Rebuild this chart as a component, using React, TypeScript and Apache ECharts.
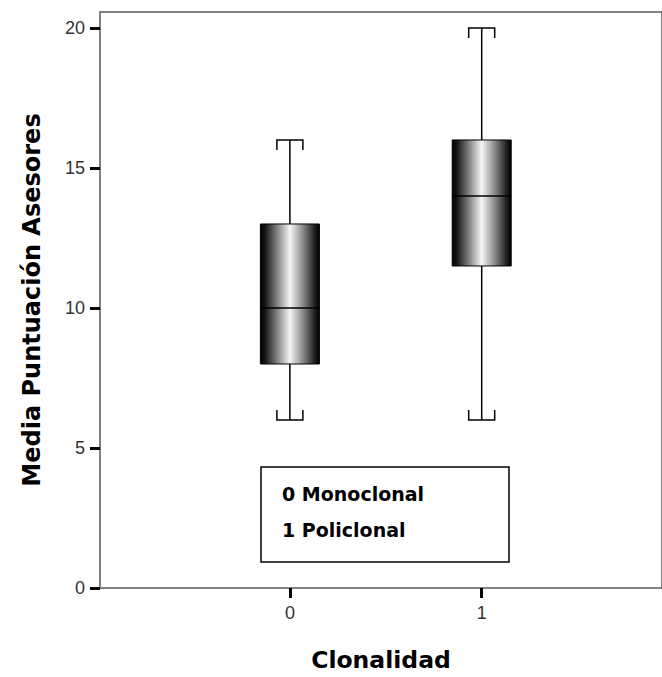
import React, { useEffect, useRef } from "react";
import * as echarts from "echarts";

const categories = [0, 1];
const categoryLabels = ["0", "1"];
// [low whisker, Q1, median, Q3, high whisker]
const boxValues = [
  [6, 8, 10, 13, 16],
  [6, 11.5, 14, 16, 20],
];
const yTicks = [0, 5, 10, 15, 20];
const legendLines = ["0 Monoclonal", "1 Policlonal"];

export default function App() {
  const ref = useRef<HTMLDivElement>(null);
  useEffect(() => {
    if (!ref.current) return;
    const chart = echarts.init(ref.current, null, { renderer: "svg" });
    const data = categories.map((c, i) => [c, ...boxValues[i]]);
    const grad = () =>
      new echarts.graphic.LinearGradient(0, 0, 1, 0, [
        { offset: 0, color: "#000000" },
        { offset: 0.08, color: "#151515" },
        { offset: 0.3, color: "#8a8a8a" },
        { offset: 0.5, color: "#f6f6f6" },
        { offset: 0.72, color: "#8a8a8a" },
        { offset: 0.92, color: "#202020" },
        { offset: 1, color: "#000000" },
      ]);
    const tickFont = "Liberation Sans Narrow, Liberation Sans, Arial, sans-serif";
    const titleFont = "DejaVu Sans, sans-serif";
    chart.setOption({
      animation: false,
      backgroundColor: "#ffffff",
      grid: {
        left: 100,
        right: 0,
        top: 12,
        bottom: 73,
        show: true,
        borderColor: "#808080",
        borderWidth: 2,
      },
      xAxis: {
        type: "value",
        min: -0.99,
        max: 1.94,
        name: "Clonalidad",
        nameLocation: "middle",
        nameGap: 60,
        nameTextStyle: {
          fontFamily: titleFont,
          fontWeight: "bold",
          fontSize: 23.5,
          color: "#000",
        },
        axisLine: { show: true, onZero: false, lineStyle: { color: "#808080", width: 2 } },
        axisTick: {
          show: true,
          length: 10,
          lineStyle: { color: "#000", width: 3 },
          customValues: categories,
        },
        axisLabel: {
          customValues: categories,
          formatter: (v: number) => categoryLabels[categories.indexOf(v)] ?? "",
          fontFamily: tickFont,
          fontSize: 18,
          color: "#333",
          margin: 16,
        },
        splitLine: { show: false },
      },
      yAxis: {
        type: "value",
        min: 0,
        max: 20.57,
        name: "Media Puntuación Asesores",
        nameLocation: "middle",
        nameGap: 56,
        nameTextStyle: {
          fontFamily: titleFont,
          fontWeight: "bold",
          fontSize: 24,
          color: "#000",
        },
        axisLine: { show: true, onZero: false, lineStyle: { color: "#808080", width: 2 } },
        axisTick: {
          show: true,
          length: 10,
          lineStyle: { color: "#000", width: 3 },
          customValues: yTicks,
        },
        axisLabel: {
          customValues: yTicks,
          fontFamily: tickFont,
          fontSize: 18,
          color: "#333",
          margin: 15,
        },
        splitLine: { show: false },
      },
      series: [
        {
          type: "custom",
          data,
          renderItem: (params: any, api: any) => {
            const x = api.value(0);
            const lo = api.coord([x, api.value(1)]);
            const q1 = api.coord([x, api.value(2)]);
            const md = api.coord([x, api.value(3)]);
            const q3 = api.coord([x, api.value(4)]);
            const hi = api.coord([x, api.value(5)]);
            const cx = lo[0];
            const bw = 59;
            const cw = 13;
            const ce = 10;
            const ls = { stroke: "#000", lineWidth: 1.5, fill: null };
            return {
              type: "group",
              children: [
                { type: "line", shape: { x1: cx, y1: hi[1], x2: cx, y2: q3[1] }, style: ls },
                { type: "line", shape: { x1: cx, y1: q1[1], x2: cx, y2: lo[1] }, style: ls },
                {
                  type: "polyline",
                  shape: { points: [[cx - cw, hi[1] + ce], [cx - cw, hi[1]], [cx + cw, hi[1]], [cx + cw, hi[1] + ce]] },
                  style: ls,
                },
                {
                  type: "polyline",
                  shape: { points: [[cx - cw, lo[1] - ce], [cx - cw, lo[1]], [cx + cw, lo[1]], [cx + cw, lo[1] - ce]] },
                  style: ls,
                },
                {
                  type: "rect",
                  shape: { x: cx - bw / 2, y: q3[1], width: bw, height: q1[1] - q3[1] },
                  style: { fill: grad(), stroke: "#000", lineWidth: 1 },
                },
                { type: "line", shape: { x1: cx - bw / 2, y1: md[1], x2: cx + bw / 2, y2: md[1] }, style: ls },
              ],
            };
          },
        },
      ],
      graphic: [
        {
          type: "rect",
          shape: { x: 261, y: 467, width: 248, height: 95 },
          style: { fill: "#fff", stroke: "#000", lineWidth: 1.5 },
        },
        {
          type: "text",
          x: 282,
          y: 494,
          style: {
            text: legendLines[0],
            fontFamily: "DejaVu Sans, sans-serif",
            fontWeight: "bold",
            fontSize: 19,
            fill: "#000",
            verticalAlign: "middle",
          },
        },
        {
          type: "text",
          x: 282,
          y: 530,
          style: {
            text: legendLines[1],
            fontFamily: "DejaVu Sans, sans-serif",
            fontWeight: "bold",
            fontSize: 19,
            fill: "#000",
            verticalAlign: "middle",
          },
        },
      ],
    });
    return () => chart.dispose();
  }, []);
  return (
    <div
      ref={ref}
      style={{ position: "fixed", left: 0, top: 0, width: 662, height: 677, background: "#fff" }}
    />
  );
}
